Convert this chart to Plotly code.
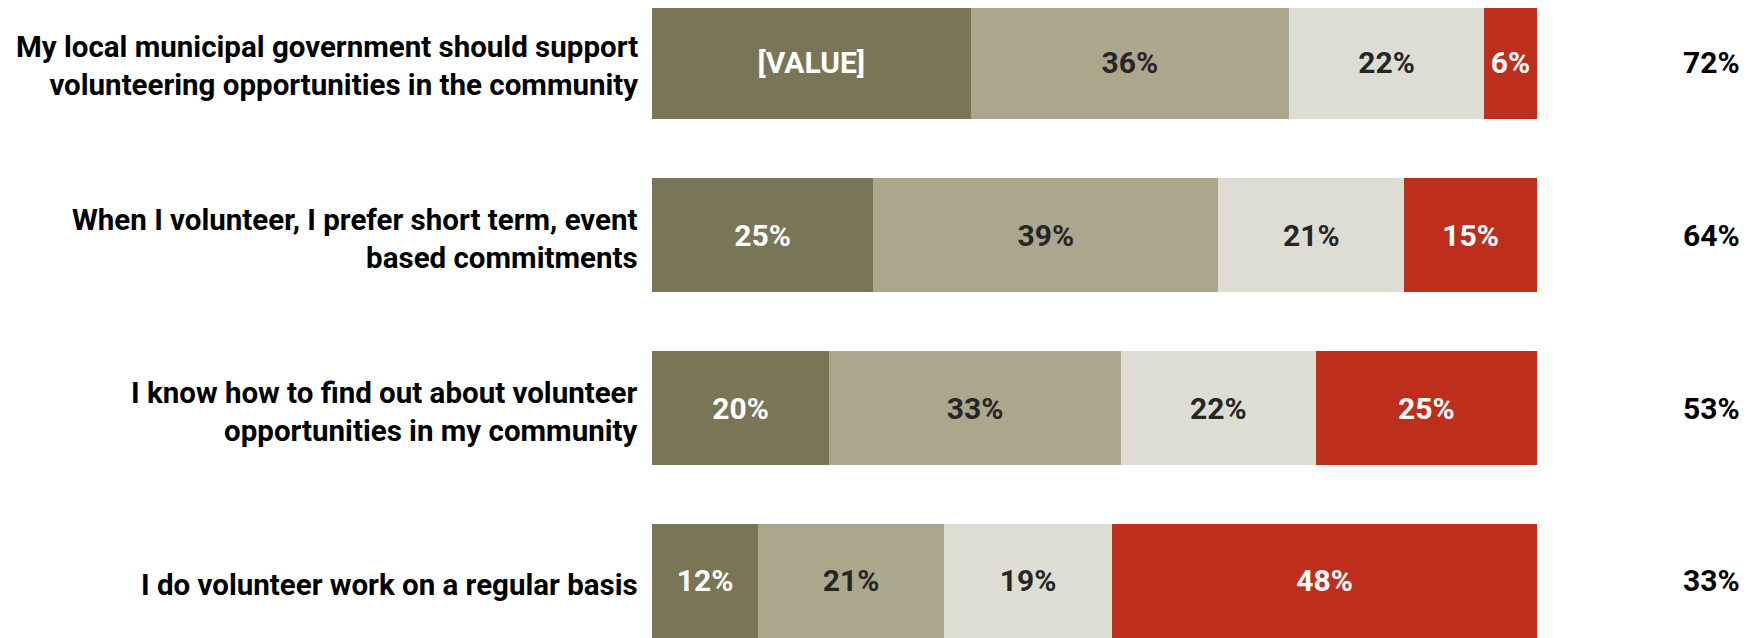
import plotly.graph_objects as go

# survey statements, top to bottom
statements = [
    "My local municipal government should support<br>volunteering opportunities in the community",
    "When I volunteer, I prefer short term, event<br>based commitments",
    "I know how to find out about volunteer<br>opportunities in my community",
    "I do volunteer work on a regular basis",
]
rows = ["s1", "s2", "s3", "s4"]

# response shares (%) per answer band
strongly_agree = [36, 25, 20, 12]
somewhat_agree = [36, 39, 33, 21]
somewhat_disagree = [22, 21, 22, 19]
strongly_disagree = [6, 15, 25, 48]

# label shown on the darkest segment (first row kept as in the source)
strongly_agree_text = ["[VALUE]", "25%", "20%", "12%"]
total_agree = [72, 64, 53, 33]

FONT = "Roboto, sans-serif"
# page body has an 8px margin, so the figure is a bit smaller than the window
W, H = 1742, 630

series = [
    (strongly_agree, "#7a7556", "white", strongly_agree_text),
    (somewhat_agree, "#aca78c", "#262626", None),
    (somewhat_disagree, "#ddddd4", "#262626", None),
    (strongly_disagree, "#be2e1d", "white", None),
]

fig = go.Figure()
for vals, col, tcol, txt in series:
    fig.add_trace(go.Bar(
        y=rows,
        x=vals,
        orientation="h",
        marker=dict(color=col, line=dict(width=0)),
        text=txt if txt else [f"{v}%" for v in vals],
        textposition="inside",
        insidetextanchor="middle",
        textangle=0,
        textfont=dict(family=FONT, size=30, color=tcol, weight="bold"),
        hoverinfo="skip",
    ))

# statement labels on the left, totals on the right
for r, s, t in zip(rows, statements, total_agree):
    fig.add_annotation(
        x=632 / W, xref="paper", xanchor="right",
        y=r, yref="y", yanchor="middle", yshift=-4,
        text=s, showarrow=False, align="right",
        font=dict(family=FONT, size=29.5, color="black", weight="bold"),
    )
    fig.add_annotation(
        x=1734 / W, xref="paper", xanchor="right",
        y=r, yref="y", yanchor="middle",
        text=f"{t}%", showarrow=False, align="right",
        font=dict(family=FONT, size=30, color="black", weight="bold"),
    )

fig.update_layout(
    width=W, height=H,
    barmode="stack",
    bargap=0.34,
    showlegend=False,
    plot_bgcolor="white",
    paper_bgcolor="white",
    margin=dict(l=0, r=0, t=0, b=0),
    uniformtext=dict(minsize=10, mode="show"),
    xaxis=dict(domain=[644 / W, 1529 / W], range=[0, 100],
               visible=False, fixedrange=True),
    yaxis=dict(range=[3.33, -0.315], visible=False, fixedrange=True),
)

fig.write_html("out.html")
